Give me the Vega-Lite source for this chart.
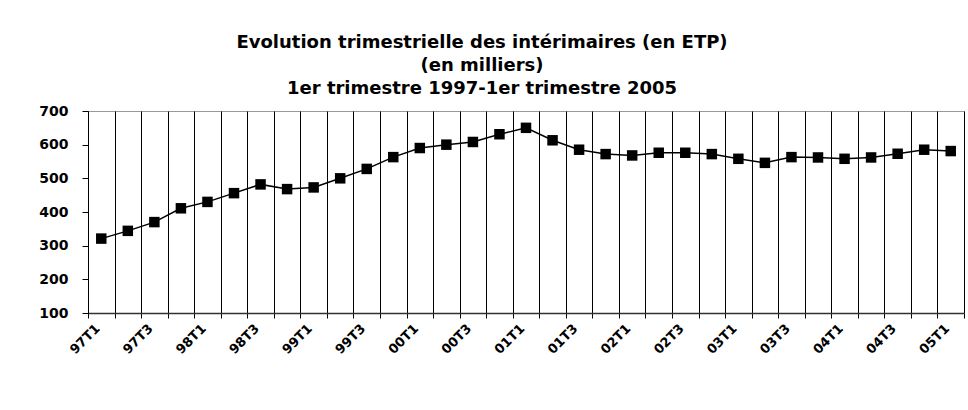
{
  "$schema": "https://vega.github.io/schema/vega-lite/v6.json",
  "width": 876,
  "height": 202,
  "autosize": {"type": "none"},
  "padding": {"left": 88, "top": 111, "right": 4, "bottom": 97},
  "background": "white",
  "config": {
    "view": {"stroke": "#999999", "strokeWidth": 1},
    "font": "DejaVu Sans"
  },
  "title": {
    "text": ["Evolution trimestrielle des intérimaires (en ETP)", "(en milliers)", "1er trimestre 1997-1er trimestre 2005"],
    "fontSize": 18,
    "fontWeight": "bold",
    "font": "DejaVu Sans",
    "color": "black",
    "anchor": "middle",
    "dx": -44,
    "lineHeight": 23,
    "offset": 6
  },
  "data": {
    "values": [
      {"q": "97T1", "v": 321}, {"q": "97T2", "v": 344}, {"q": "97T3", "v": 370}, {"q": "97T4", "v": 411},
      {"q": "98T1", "v": 430}, {"q": "98T2", "v": 456}, {"q": "98T3", "v": 482}, {"q": "98T4", "v": 468},
      {"q": "99T1", "v": 473}, {"q": "99T2", "v": 500}, {"q": "99T3", "v": 528}, {"q": "99T4", "v": 563},
      {"q": "00T1", "v": 590}, {"q": "00T2", "v": 600}, {"q": "00T3", "v": 608}, {"q": "00T4", "v": 631},
      {"q": "01T1", "v": 650}, {"q": "01T2", "v": 613}, {"q": "01T3", "v": 585}, {"q": "01T4", "v": 572},
      {"q": "02T1", "v": 568}, {"q": "02T2", "v": 576}, {"q": "02T3", "v": 576}, {"q": "02T4", "v": 572},
      {"q": "03T1", "v": 558}, {"q": "03T2", "v": 546}, {"q": "03T3", "v": 563}, {"q": "03T4", "v": 562},
      {"q": "04T1", "v": 558}, {"q": "04T2", "v": 562}, {"q": "04T3", "v": 573}, {"q": "04T4", "v": 585},
      {"q": "05T1", "v": 581}
    ]
  },
  "encoding": {
    "x": {
      "field": "q",
      "type": "ordinal",
      "sort": null,
      "scale": {"type": "band", "paddingInner": 0, "paddingOuter": 0},
      "axis": {
        "title": null,
        "tickBand": "extent",
        "grid": true,
        "gridColor": "black",
        "gridOpacity": 1,
        "gridWidth": 1,
        "domainColor": "#333333",
        "domainWidth": 1.5,
        "tickColor": "black",
        "tickSize": 5,
        "labelAngle": -45,
        "labelAlign": "right",
        "labelBaseline": "middle",
        "labelFont": "DejaVu Sans",
        "labelFontWeight": "bold",
        "labelFontSize": 13,
        "labelColor": "black",
        "labelPadding": 8,
        "labelOffset": -4,
        "labelOverlap": false,
        "labelExpr": "test(/T[24]/, datum.label) ? '' : datum.label"
      }
    },
    "y": {
      "field": "v",
      "type": "quantitative",
      "scale": {"domain": [100, 700], "nice": false, "zero": false},
      "axis": {
        "title": null,
        "values": [100, 200, 300, 400, 500, 600, 700],
        "grid": false,
        "domainColor": "black",
        "domainWidth": 1,
        "tickColor": "black",
        "tickSize": 6,
        "labelFont": "DejaVu Sans",
        "labelFontWeight": "bold",
        "labelFontSize": 14,
        "labelColor": "black",
        "labelPadding": 14
      }
    }
  },
  "layer": [
    {"mark": {"type": "line", "color": "black", "strokeWidth": 1.5}},
    {"mark": {"type": "point", "shape": "square", "filled": true, "size": 110, "color": "black", "opacity": 1}}
  ]
}
